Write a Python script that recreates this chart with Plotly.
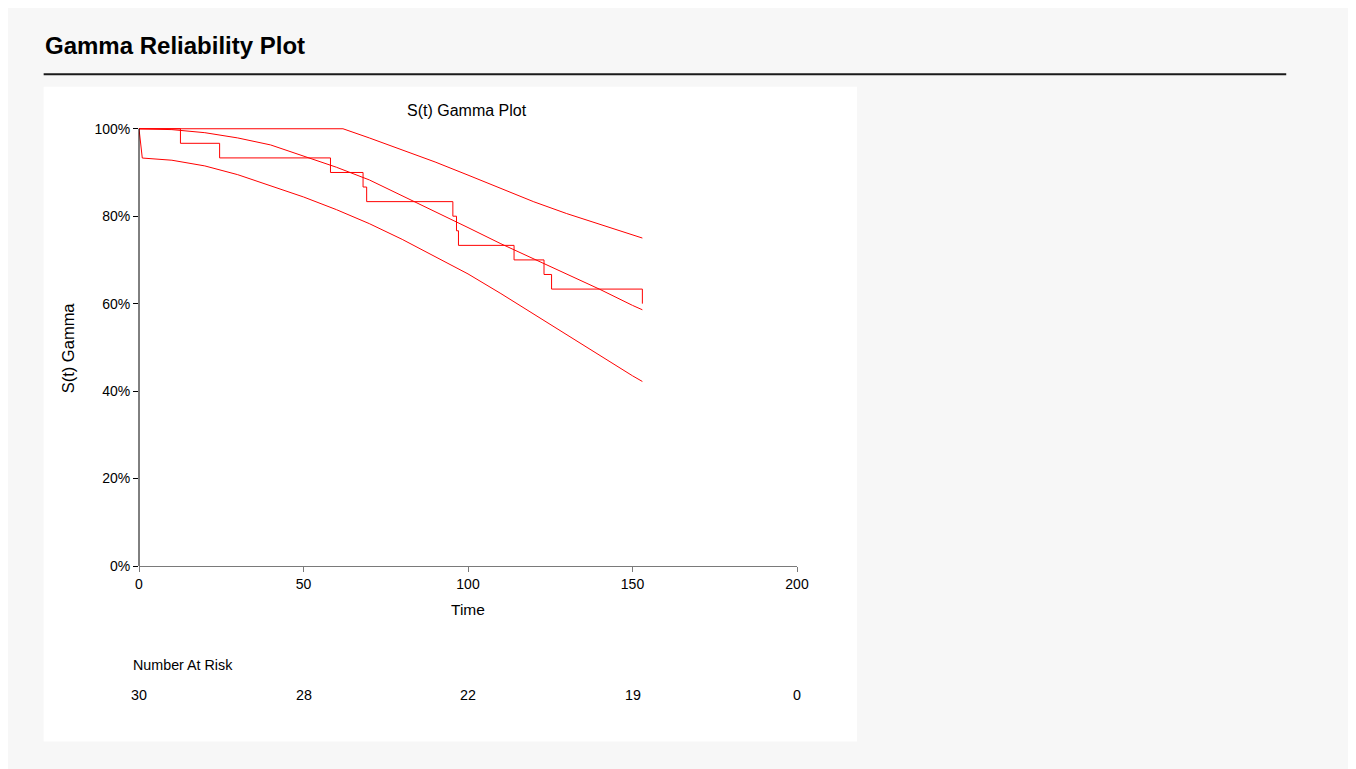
import plotly.graph_objects as go

# ---------------- data ----------------
km_time = [0, 12.6, 24.5, 58.2, 68.1, 69.2, 95.4, 96.5, 97.1, 114.0, 123.1, 125.4, 153.0]
km_surv = [1.0, 0.9667, 0.9333, 0.9, 0.8667, 0.8333, 0.8, 0.7667, 0.7333, 0.7, 0.6667, 0.6333, 0.6]
km_end_time = 153.0  # last horizontal level reaches here before the final drop

fit_time = [0, 10, 20, 30, 40, 50, 60, 70, 80, 90, 100, 110, 120, 130, 140, 150, 153]
fit_surv = [1.0, 0.998, 0.991, 0.979, 0.963, 0.938, 0.912, 0.883, 0.847, 0.811, 0.774, 0.737,
            0.702, 0.668, 0.633, 0.596, 0.586]

low_time = [0, 1, 10, 20, 30, 40, 50, 60, 70, 80, 90, 100, 110, 120, 130, 140, 150, 153]
low_surv = [1.0, 0.933, 0.928, 0.915, 0.895, 0.870, 0.844, 0.815, 0.783, 0.747, 0.708, 0.668,
            0.623, 0.576, 0.528, 0.481, 0.435, 0.422]

up_time = [0, 62, 70, 80, 90, 100, 110, 120, 130, 140, 150, 153]
up_surv = [1.0, 1.0, 0.979, 0.952, 0.924, 0.894, 0.863, 0.833, 0.806, 0.782, 0.758, 0.750]

risk_time = [0, 50, 100, 150, 200]
risk_count = [30, 28, 22, 19, 0]

x_ticks = [0, 50, 100, 150, 200]
y_ticks = [0, 0.2, 0.4, 0.6, 0.8, 1.0]
y_ticklabels = ["0%", "20%", "40%", "60%", "80%", "100%"]

# ---------------- layout geometry ----------------
W, H = 1356, 769
OFF = 8                 # default page body margin in the browser
Y_MAX = 1.004           # small headroom so the 100% lines are not clipped
L, R = 139.3, 797.0     # plot area pixel edges (x), page coordinates
Y100, B = 129.0, 566.5  # pixel rows of 100% and 0%
T = B - (B - Y100) * Y_MAX


def fx(px):
    return (px - L) / (R - L)


def fy(py):
    return (B - py) / (B - T)


FONT = "Liberation Sans, Arial, sans-serif"
RED = "#ff0000"

fig = go.Figure()

# Kaplan-Meier style step line
km_x = km_time[:-1] + [km_end_time]
km_y = km_surv[:-2] + [km_surv[-2], km_surv[-2]]
fig.add_trace(go.Scatter(x=km_x, y=km_y, mode="lines", line=dict(color=RED, width=1, shape="hv"),
                         showlegend=False, hoverinfo="skip"))
fig.add_trace(go.Scatter(x=[km_end_time, km_end_time], y=[km_surv[-2], km_surv[-1]], mode="lines",
                         line=dict(color=RED, width=1), showlegend=False, hoverinfo="skip"))

for tx, ty in [(fit_time, fit_surv), (low_time, low_surv), (up_time, up_surv)]:
    fig.add_trace(go.Scatter(x=tx, y=ty, mode="lines", line=dict(color=RED, width=1),
                             showlegend=False, hoverinfo="skip"))

shapes = [
    # gray page
    dict(type="rect", xref="paper", yref="paper", x0=fx(0), x1=fx(W + 10), y0=fy(0), y1=fy(H + 10),
         fillcolor="#f7f7f7", line=dict(width=0), layer="below"),
    # white chart panel
    dict(type="rect", xref="paper", yref="paper", x0=fx(44), x1=fx(857), y0=fy(87), y1=fy(742),
         fillcolor="#ffffff", line=dict(width=0), layer="below"),
    # title underline
    dict(type="line", xref="paper", yref="paper", x0=fx(44), x1=fx(1286), y0=fy(74.5), y1=fy(74.5),
         line=dict(color="#1a1a1a", width=2)),
]

annotations = [
    dict(text="<b>Gamma Reliability Plot</b>", xref="paper", yref="paper", x=fx(43), y=fy(46),
         xanchor="left", yanchor="middle", showarrow=False, font=dict(family=FONT, size=24, color="#000")),
    dict(text="S(t) Gamma Plot", xref="paper", yref="paper", x=fx(467), y=fy(111),
         xanchor="center", yanchor="middle", showarrow=False, font=dict(family=FONT, size=16, color="#000")),
    dict(text="Time", xref="paper", yref="paper", x=fx(468), y=fy(610),
         xanchor="center", yanchor="middle", showarrow=False, font=dict(family=FONT, size=15.5, color="#000")),
    dict(text="S(t) Gamma", xref="paper", yref="paper", x=fx(68), y=fy(348), textangle=-90,
         xanchor="center", yanchor="middle", showarrow=False, font=dict(family=FONT, size=16.5, color="#000")),
    dict(text="Number At Risk", xref="paper", yref="paper", x=fx(131), y=fy(666),
         xanchor="left", yanchor="middle", showarrow=False, font=dict(family=FONT, size=14.3, color="#000")),
]
for t, n in zip(risk_time, risk_count):
    annotations.append(dict(text=str(n), xref="x", yref="paper", x=t, y=fy(696), xanchor="center",
                            yanchor="middle", showarrow=False, font=dict(family=FONT, size=14.3, color="#000")))

fig.update_layout(
    width=W - OFF, height=H - OFF,
    margin=dict(l=L - OFF, r=W - R, t=T - OFF, b=H - B, pad=0),
    paper_bgcolor="#f7f7f7",
    plot_bgcolor="#ffffff",
    font=dict(family=FONT, size=14, color="#000"),
    shapes=shapes,
    annotations=annotations,
    showlegend=False,
)
fig.update_xaxes(range=[0, 200], tickvals=x_ticks, ticktext=[str(v) for v in x_ticks],
                 showgrid=False, zeroline=False, showline=True, linecolor="#7a7a7a", linewidth=1,
                 ticks="outside", ticklen=5, tickcolor="#7a7a7a", tickfont=dict(size=14, color="#000"),
                 fixedrange=True)
fig.update_yaxes(range=[0, Y_MAX], tickvals=y_ticks, ticktext=y_ticklabels,
                 showgrid=False, zeroline=False, showline=False,
                 ticks="outside", ticklen=5, tickcolor="#000", tickfont=dict(size=14, color="#000"),
                 fixedrange=True)
# y-axis line from 0% to 100% only
fig.add_shape(type="line", xref="paper", yref="y", x0=0, x1=0, y0=0, y1=1.0,
              line=dict(color="#000", width=1))

fig.write_html("out.html")
